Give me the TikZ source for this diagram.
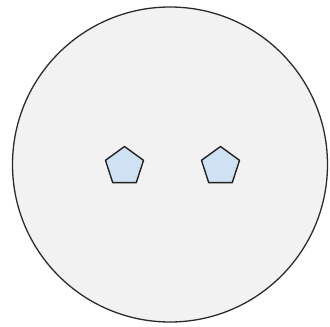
\documentclass[tikz,border=0pt]{standalone}
\usetikzlibrary{shapes.geometric}
\definecolor{discfill}{HTML}{F2F2F2}
\definecolor{discline}{HTML}{2B2B2B}
\definecolor{pentfill}{HTML}{CFE2F3}
\definecolor{pentline}{HTML}{222222}
\begin{document}
\begin{tikzpicture}[x=1pt,y=-1pt,
  disc/.style={circle,draw=discline,fill=discfill,line width=1.3pt,minimum size=315pt,inner sep=0pt},
  pent/.style={regular polygon,regular polygon sides=5,draw=pentline,fill=pentfill,line width=1.4pt,line join=round,minimum size=40pt,inner sep=0pt}]
\useasboundingbox (0,0) rectangle (330,327);
\node[disc] (c) at (170,164.5) {};
\node[pent] (p1) at (124.5,166.5) {};
\node[pent] (p2) at (220.5,166.5) {};
\end{tikzpicture}
\end{document}
